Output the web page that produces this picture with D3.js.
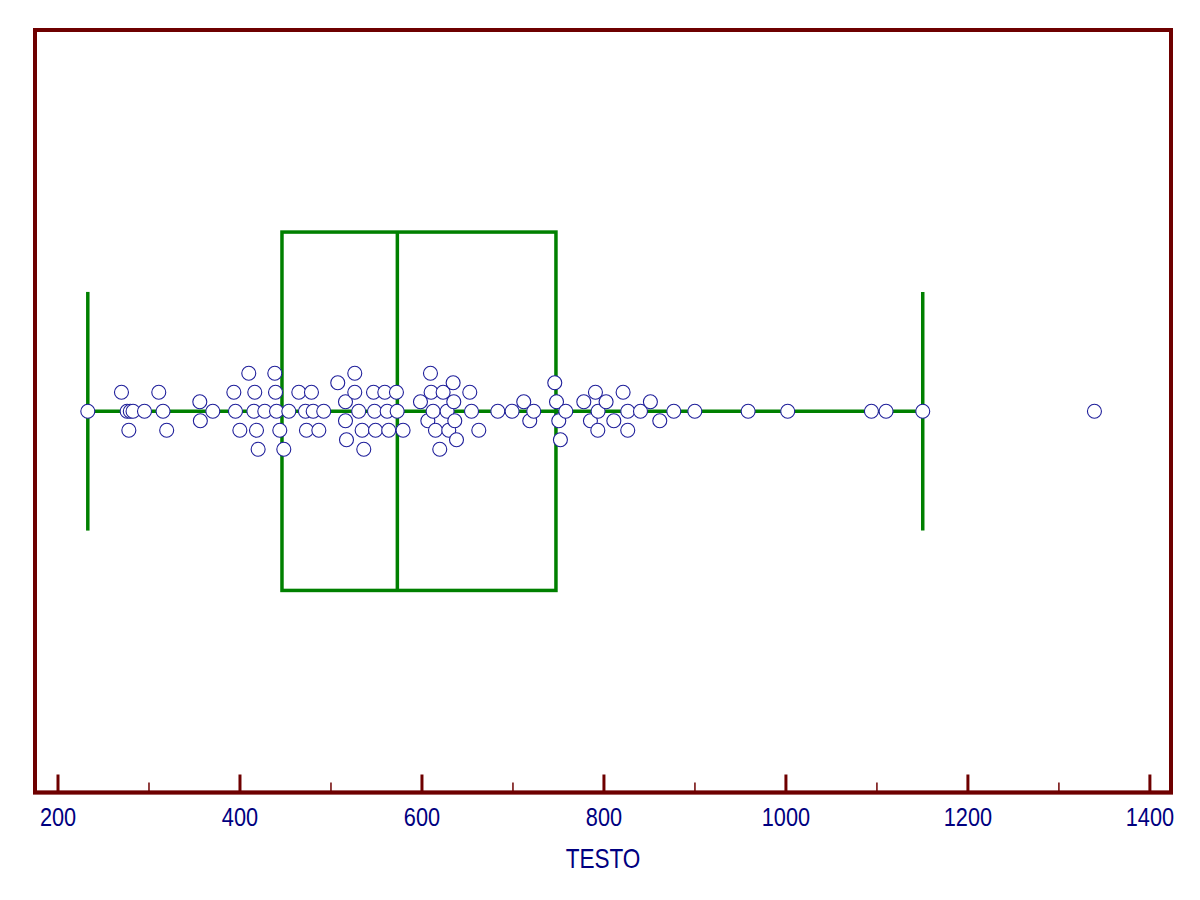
<!DOCTYPE html>
<html>
<head>
<meta charset="utf-8">
<script src="https://cdn.jsdelivr.net/npm/d3@7"></script>
<style>
  html, body { margin: 0; padding: 0; background: #ffffff; }
  svg { display: block; }
  .lbl { font-family: "Liberation Sans", Arial, sans-serif; fill: #000080; }
</style>
</head>
<body>
<svg id="chart" width="1200" height="900"></svg>
<script>
// ---- data ----
const variableName = "TESTO";
const testoValues = [
  233.3, 270.3, 276.5, 278.4, 280, 283, 295.6, 311.3, 316, 320,
  356.4, 357, 370.7, 393.8, 395.6, 400.4, 410.2, 415.8, 416.8, 418.7,
  420.5, 427.8, 438.8, 439.6, 440.7, 444.3, 448.7, 454.2, 465.2, 472.5,
  473.6, 479.1, 481, 487.2, 492.6, 508, 516.5, 516.5, 517.6, 526.7,
  526.7, 531, 534.8, 536.6, 547.3, 548.4, 549.5, 559.7, 562.3, 564,
  572.5, 573.3, 579.8, 598.9, 607, 609.9, 610.6, 612.8, 615.4, 620.1,
  623.8, 628.2, 630, 634.8, 635.5, 636.6, 638.5, 653.1, 655, 663,
  683.9, 699.6, 712.4, 719, 723.4, 746.5, 748.4, 750.9, 752.7, 758.6,
  778.4, 785.7, 791.2, 793.8, 794.1, 802.9, 811.4, 821.6, 826.7, 826.7,
  840.7, 851.6, 861.9, 877.3, 900.4, 959, 1002.5, 1094.5, 1110.6, 1150.9,
  1339.6
];
// stacking level of each dot in the swarm (negative = above the centre line)
const stackLevel = [
  0, -2, 0, 2, 0, 0, 0, -2, 0, 2,
  -1, 1, 0, -2, 0, 2, -4, 0, -2, 2,
  4, 0, -4, -2, 0, 2, 4, 0, -2, 0,
  2, -2, 0, 2, 0, -3, -1, 1, 3, -4,
  -2, 0, 2, 4, -2, 0, 2, -2, 0, 2,
  -2, 0, 2, -1, 1, -4, -2, 0, 2, 4,
  -2, 0, 2, -3, -1, 1, 3, -2, 0, 2,
  0, 0, -1, 1, 0, -3, -1, 1, 3, 0,
  -1, 1, -2, 2, 0, -1, 1, -2, 0, 2,
  0, -1, 1, 0, 0, 0, 0, 0, 0, 0,
  0
];
// five-number summary: lower whisker, Q1, median, Q3, upper whisker
const boxSummary = [233.3, 446.7, 573.5, 747.8, 1150.9];
const majorTicks = [200, 400, 600, 800, 1000, 1200, 1400];
const minorTicks = [300, 500, 700, 900, 1100, 1300];

// ---- layout ----
const svg = d3.select("#chart");
const frame = { left: 35, right: 1171, top: 30, bottom: 792.5 };
const frameColor = "#6e0000";
const boxColor = "#008000";
const textColor = "#000080";
const dotColor = "#1e1e9a";
const narrow = 0.82; // condensed-font look

const x = d3.scaleLinear().domain([200, 1400]).range([57.5, 1149.4]);
const y = d3.scaleLinear().domain([-1, 1]).range([frame.bottom, frame.top]);
const boxHalf = 0.47, capHalf = 0.313, rowStep = 0.0249;

// frame
svg.append("rect")
  .attr("x", frame.left).attr("y", frame.top)
  .attr("width", frame.right - frame.left).attr("height", frame.bottom - frame.top)
  .attr("fill", "none").attr("stroke", frameColor).attr("stroke-width", 4);

// axes
const minorAxis = d3.axisBottom(x).tickValues(minorTicks).tickSize(10).tickFormat("");
const gMinor = svg.append("g").attr("transform", `translate(0,${frame.bottom})`).call(minorAxis);
gMinor.select(".domain").remove();
gMinor.selectAll(".tick line").attr("stroke", frameColor).attr("stroke-width", 1.5).attr("y1", 0).attr("y2", -10);

const majorAxis = d3.axisBottom(x).tickValues(majorTicks).tickSize(18).tickFormat(d3.format("d"));
const gMajor = svg.append("g").attr("transform", `translate(0,${frame.bottom})`).call(majorAxis);
gMajor.select(".domain").remove();
gMajor.selectAll(".tick line").attr("stroke", frameColor).attr("stroke-width", 3).attr("y1", 0).attr("y2", -18);
gMajor.selectAll(".tick text")
  .attr("class", "lbl").attr("y", 33.5).attr("dy", 0)
  .attr("transform", `scale(${narrow},1)`)
  .attr("font-size", 26.5).style("font-family", '"Liberation Sans", Arial, sans-serif')
  .attr("fill", textColor);

// bottom axis line (thicker on top of frame)
svg.append("line")
  .attr("x1", frame.left - 2).attr("x2", frame.right + 2)
  .attr("y1", frame.bottom).attr("y2", frame.bottom)
  .attr("stroke", frameColor).attr("stroke-width", 3.5);

svg.append("g")
  .attr("transform", `translate(${(frame.left + frame.right) / 2},867.5) scale(${narrow},1)`)
  .append("text").attr("class", "lbl")
  .attr("x", 0).attr("y", 0)
  .attr("text-anchor", "middle").attr("font-size", 27.5)
  .text(variableName);

// box plot
const [wLo, q1, med, q3, wHi] = boxSummary;
const gBox = svg.append("g").attr("stroke", boxColor).attr("fill", "none").attr("stroke-width", 3.5);
gBox.append("line").attr("x1", x(wLo)).attr("x2", x(wHi)).attr("y1", y(0)).attr("y2", y(0));
gBox.append("line").attr("x1", x(wLo)).attr("x2", x(wLo)).attr("y1", y(capHalf)).attr("y2", y(-capHalf));
gBox.append("line").attr("x1", x(wHi)).attr("x2", x(wHi)).attr("y1", y(capHalf)).attr("y2", y(-capHalf));
gBox.append("rect").attr("x", x(q1)).attr("y", y(boxHalf))
  .attr("width", x(q3) - x(q1)).attr("height", y(-boxHalf) - y(boxHalf));
gBox.append("line").attr("x1", x(med)).attr("x2", x(med)).attr("y1", y(boxHalf)).attr("y2", y(-boxHalf));

// dots
const points = testoValues.map((v, i) => ({ v, lvl: stackLevel[i] }));
svg.append("g").selectAll("circle").data(points).join("circle")
  .attr("cx", d => x(d.v))
  .attr("cy", d => y(-d.lvl * rowStep))
  .attr("r", 7)
  .attr("fill", "#ffffff")
  .attr("stroke", dotColor)
  .attr("stroke-width", 1.1);
</script>
</body>
</html>
